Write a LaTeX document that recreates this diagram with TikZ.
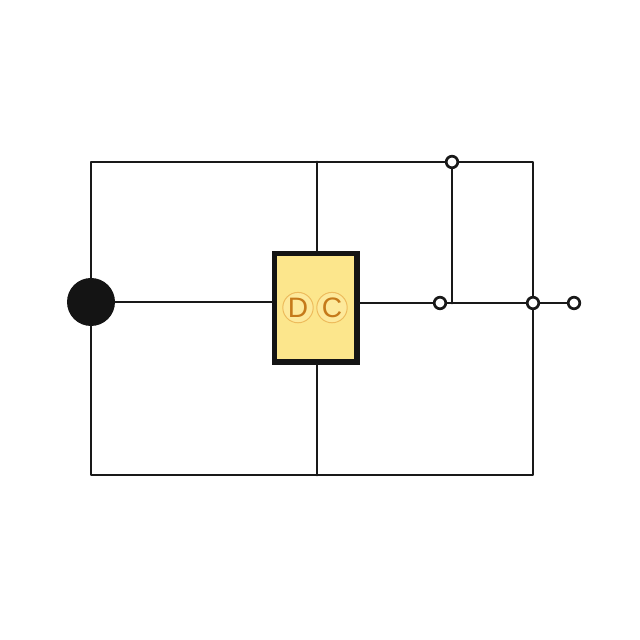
\documentclass[tikz,border=0pt]{standalone}
\usepackage{fontspec}
\setsansfont{Liberation Sans}
\definecolor{boxfill}{HTML}{FCE68C}
\definecolor{letterc}{HTML}{C57A1A}
\definecolor{haloc}{HTML}{EDBB5C}
\definecolor{halofill}{HTML}{FDE99B}
\tikzset{
	wire/.style={line width=2pt, black!90},
	hub/.style={circle, fill=black!92, draw=none, minimum size=1.2cm, inner sep=0pt},
	terminal/.style={circle, draw=black!90, fill=white, line width=1.9pt, minimum size=0.29cm, inner sep=0pt},
	dcbox/.style={draw=black!92, fill=boxfill, line width=3.6pt, line join=miter, minimum width=2.07cm, minimum height=2.72cm, inner sep=0pt},
	halo/.style={circle, draw=haloc, fill=halofill, line width=0.7pt, minimum size=0.76cm, inner sep=0pt, text=letterc, font=\sffamily\fontsize{20}{20}\selectfont}
}
\begin{document}
\begin{tikzpicture}[line join=round, line cap=round]
	\useasboundingbox (0,0) rectangle (16,16);
	\path
	(2.275,11.95) coordinate (TL)
	(7.925,11.95) coordinate (TM)
	(13.325,11.95) coordinate (TR)
	(2.275,4.125) coordinate (BL)
	(7.925,4.125) coordinate (BM)
	(13.325,4.125) coordinate (BR);
	\node[hub] (S) at (2.275,8.45) {};
	\node[dcbox] (DC) at (7.89,8.31) {};
	\node[halo] (D) at (7.45,8.31) {D};
	\node[halo] (C) at (8.3,8.31) {C};
	\node[terminal] (A) at (11.3,11.95) {};
	\node[terminal] (E) at (11,8.425) {};
	\node[terminal] (F) at (13.325,8.425) {};
	\node[terminal] (G) at (14.35,8.425) {};
	\coordinate (J) at (A |- E);
	\draw[wire] (S) -- (TL) -- (TM) -- (A) (A) -- (TR) -- (F) (F) -- (BR) -- (BM) -- (BL) -- (S);
	\draw[wire] (TM) -- (TM |- DC.north) (BM) -- (BM |- DC.south);
	\draw[wire] (S) -- (S -| DC.west) (DC.east |- E) -- (E);
	\draw[wire] (A) -- (J) (E) -- (F) (F) -- (G);
\end{tikzpicture}
\end{document}
